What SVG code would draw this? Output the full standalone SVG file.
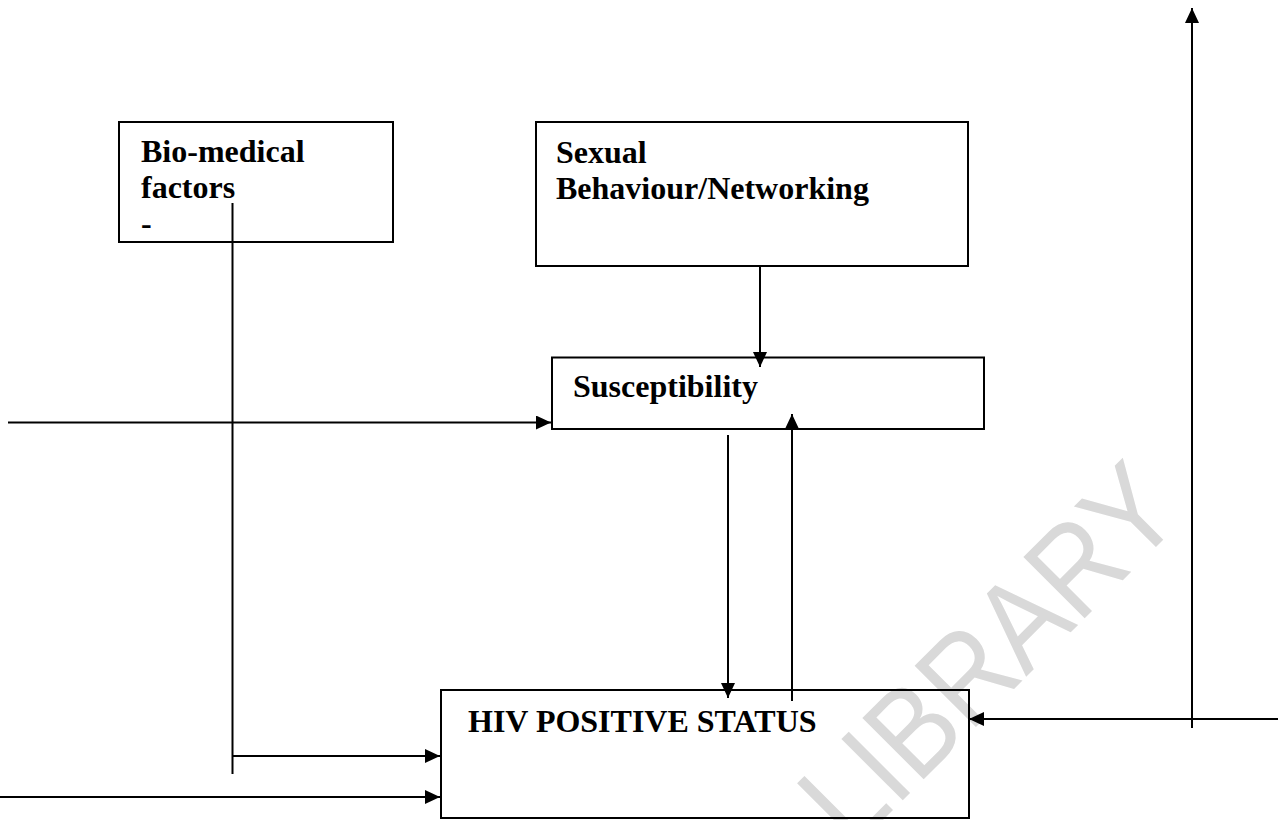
<svg xmlns="http://www.w3.org/2000/svg" width="1278" height="820" viewBox="0 0 1278 820">
  <style>
    .box { fill: none; stroke: #000000; stroke-width: 2; }
    .label { font-family: "Liberation Serif", "Times New Roman", serif; font-weight: bold; font-size: 32px; fill: #000000; }
    .wire { fill: none; stroke: #000000; stroke-width: 2; }
    .mark { font-family: "Liberation Sans", Arial, sans-serif; font-size: 126px; fill: #d9d9d9; }
  </style>
  <defs>
    <marker id="arrow" viewBox="0 0 15 14" refX="15" refY="7" markerWidth="15" markerHeight="14" markerUnits="userSpaceOnUse" orient="auto">
      <path d="M0,0 L15,7 L0,14 z" fill="#000000"/>
    </marker>
  </defs>

  <rect width="1278" height="820" fill="#ffffff"/>

  <!-- background watermark, set diagonally behind the chart -->
  <text class="mark" transform="translate(852,851) rotate(-45)" textLength="472" lengthAdjust="spacingAndGlyphs">LIBRARY</text>

  <g id="node-biomedical">
    <rect class="box" x="119" y="122" width="274" height="120"/>
    <text class="label" x="141" y="162">Bio-medical</text>
    <text class="label" x="141" y="198">factors</text>
    <text class="label" x="141" y="234">-</text>
  </g>

  <g id="node-sexual">
    <rect class="box" x="536" y="122" width="432" height="144"/>
    <text class="label" x="556" y="163">Sexual</text>
    <text class="label" x="556" y="199">Behaviour/Networking</text>
  </g>

  <g id="node-susceptibility">
    <rect class="box" x="552" y="357.5" width="432" height="71.5"/>
    <text class="label" x="573" y="397">Susceptibility</text>
  </g>

  <g id="node-hiv">
    <rect class="box" x="441" y="690" width="528" height="128"/>
    <text class="label" x="468" y="732">HIV POSITIVE STATUS</text>
  </g>

  <g id="connectors">
    <path class="wire" d="M760,267 L760,367" marker-end="url(#arrow)"/>
    <path class="wire" d="M8,422.5 L551,422.5" marker-end="url(#arrow)"/>
    <path class="wire" d="M728,435 L728,698" marker-end="url(#arrow)"/>
    <path class="wire" d="M792,701 L792,414" marker-end="url(#arrow)"/>
    <path class="wire" d="M232.5,203 L232.5,774"/>
    <path class="wire" d="M232.5,756 L440,756" marker-end="url(#arrow)"/>
    <path class="wire" d="M0,797 L440,797" marker-end="url(#arrow)"/>
    <path class="wire" d="M1278,719 L969,719" marker-end="url(#arrow)"/>
    <path class="wire" d="M1192,728 L1192,8" marker-end="url(#arrow)"/>
  </g>
</svg>
